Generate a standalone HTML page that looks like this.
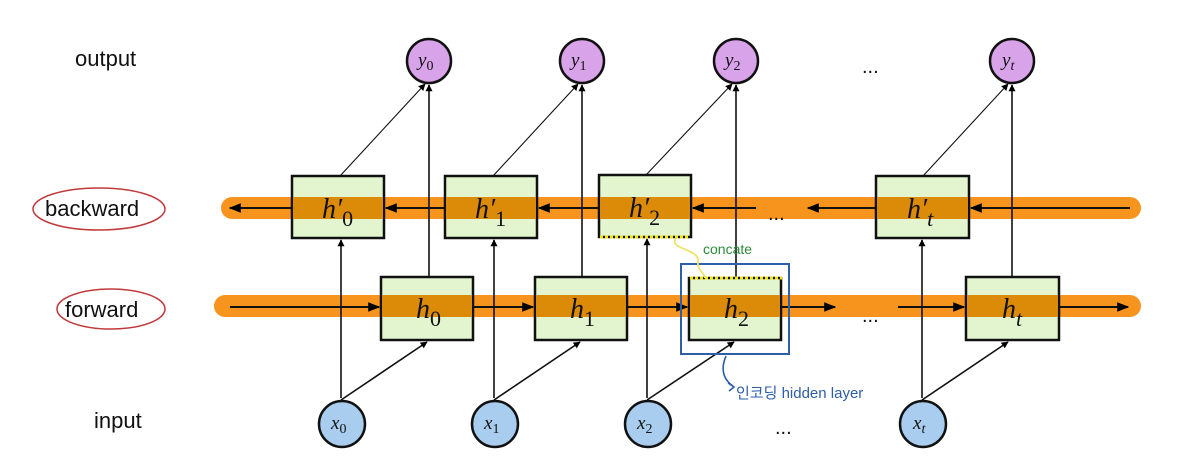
<!DOCTYPE html>
<html><head><meta charset="utf-8"><style>
html,body{margin:0;padding:0;background:#fff;}
svg{display:block;}
.lbl{font-family:"Liberation Sans",sans-serif;font-size:22px;fill:#111;}
.m{font-family:"Liberation Serif",serif;font-style:italic;fill:#111;}
</style></head><body>
<svg width="1200" height="475" viewBox="0 0 1200 475" xmlns="http://www.w3.org/2000/svg">
<defs>
<marker id="a" viewBox="0 0 10 10" refX="9" refY="5" markerWidth="7" markerHeight="7" orient="auto-start-reverse" markerUnits="userSpaceOnUse"><path d="M0,0 L10,5 L0,10 z" fill="#000"/></marker>
<marker id="b" viewBox="0 0 10 10" refX="9" refY="5" markerWidth="12" markerHeight="12" orient="auto" markerUnits="userSpaceOnUse"><path d="M0,1 L10,5 L0,9 z" fill="#000"/></marker>
</defs>
<!-- labels -->
<text class="lbl" x="75" y="66">output</text>
<text class="lbl" x="45" y="216">backward</text>
<text class="lbl" x="65" y="317">forward</text>
<text class="lbl" x="94" y="428">input</text>
<ellipse cx="99" cy="209" rx="66" ry="21" fill="none" stroke="#c0393b" stroke-width="1.5"/>
<ellipse cx="111" cy="309" rx="54" ry="20" fill="none" stroke="#c0393b" stroke-width="1.5"/>
<!-- bands -->
<line x1="232" y1="208" x2="1130" y2="208" stroke="#f7941d" stroke-width="22" stroke-linecap="round"/>
<line x1="225" y1="306" x2="1130" y2="306" stroke="#f7941d" stroke-width="22" stroke-linecap="round"/>
<!-- backward boxes -->
<g stroke="#111" stroke-width="2.5">
<rect x="292" y="176" width="92" height="62" fill="#e2f5cf"/>
<rect x="445" y="176" width="92" height="62" fill="#e2f5cf"/>
<rect x="599" y="175" width="92" height="62" fill="#e2f5cf"/>
<rect x="876" y="176" width="93" height="62" fill="#e2f5cf"/>
<rect x="381" y="277" width="92" height="63" fill="#e2f5cf"/>
<rect x="535" y="277" width="92" height="63" fill="#e2f5cf"/>
<rect x="689" y="278" width="92" height="62" fill="#e2f5cf"/>
<rect x="966" y="277" width="93" height="63" fill="#e2f5cf"/>
</g>
<g fill="#dc8b08">
<rect x="293" y="197" width="90" height="22"/>
<rect x="446" y="197" width="90" height="22"/>
<rect x="600" y="197" width="90" height="22"/>
<rect x="877" y="197" width="91" height="22"/>
<rect x="382" y="295" width="90" height="22"/>
<rect x="536" y="295" width="90" height="22"/>
<rect x="690" y="295" width="90" height="22"/>
<rect x="967" y="295" width="91" height="22"/>
</g>
<!-- box labels -->
<g class="m" font-size="28">
<text x="322" y="218">h′<tspan font-size="22" font-style="normal" dy="8">0</tspan></text>
<text x="475" y="218">h′<tspan font-size="22" font-style="normal" dy="8">1</tspan></text>
<text x="629" y="217">h′<tspan font-size="22" font-style="normal" dy="8">2</tspan></text>
<text x="907" y="218">h′<tspan font-size="22" dy="8">t</tspan></text>
<text x="416" y="318">h<tspan font-size="22" font-style="normal" dy="8">0</tspan></text>
<text x="570" y="318">h<tspan font-size="22" font-style="normal" dy="8">1</tspan></text>
<text x="724" y="318">h<tspan font-size="22" font-style="normal" dy="8">2</tspan></text>
<text x="1002" y="318">h<tspan font-size="22" dy="8">t</tspan></text>
</g>
<!-- band arrows -->
<g stroke="#111" stroke-width="2" fill="none">
<line x1="292" y1="208" x2="230" y2="208" marker-end="url(#b)"/>
<line x1="445" y1="208" x2="386" y2="208" marker-end="url(#b)"/>
<line x1="599" y1="208" x2="539" y2="208" marker-end="url(#b)"/>
<line x1="756" y1="208" x2="693" y2="208" marker-end="url(#b)"/>
<line x1="876" y1="208" x2="808" y2="208" marker-end="url(#b)"/>
<line x1="1130" y1="208" x2="971" y2="208" marker-end="url(#b)"/>
<line x1="230" y1="307" x2="379" y2="307" marker-end="url(#b)"/>
<line x1="473" y1="307" x2="533" y2="307" marker-end="url(#b)"/>
<line x1="627" y1="307" x2="687" y2="307" marker-end="url(#b)"/>
<line x1="781" y1="307" x2="835" y2="307" marker-end="url(#b)"/>
<line x1="898" y1="307" x2="964" y2="307" marker-end="url(#b)"/>
<line x1="1059" y1="307" x2="1128" y2="307" marker-end="url(#b)"/>
</g>
<g font-family="Liberation Sans,sans-serif" font-size="20" fill="#111">
<text x="768" y="220">...</text>
<text x="862" y="322">...</text>
<text x="862" y="73">...</text>
<text x="775" y="434">...</text>
</g>
<!-- vertical / diagonal connectors -->
<g stroke="#111" stroke-width="1.6" fill="none">
<!-- x to h' -->
<line x1="341" y1="398" x2="341" y2="240" marker-end="url(#a)"/>
<line x1="494" y1="398" x2="494" y2="240" marker-end="url(#a)"/>
<line x1="647" y1="398" x2="647" y2="239" marker-end="url(#a)"/>
<line x1="922" y1="398" x2="922" y2="240" marker-end="url(#a)"/>
<!-- x to h -->
<line x1="341" y1="400" x2="427" y2="342" marker-end="url(#a)"/>
<line x1="494" y1="400" x2="580" y2="342" marker-end="url(#a)"/>
<line x1="647" y1="400" x2="734" y2="342" marker-end="url(#a)"/>
<line x1="922" y1="400" x2="1008" y2="342" marker-end="url(#a)"/>
<!-- h to y -->
<line x1="429" y1="277" x2="429" y2="85" marker-end="url(#a)"/>
<line x1="582" y1="277" x2="582" y2="85" marker-end="url(#a)"/>
<line x1="736" y1="278" x2="736" y2="85" marker-end="url(#a)"/>
<line x1="1012" y1="277" x2="1012" y2="85" marker-end="url(#a)"/>
<!-- h' to y -->
<line x1="340" y1="176" x2="425" y2="84" stroke-width="1.1" marker-end="url(#a)"/>
<line x1="493" y1="176" x2="578" y2="84" stroke-width="1.1" marker-end="url(#a)"/>
<line x1="646" y1="175" x2="732" y2="84" stroke-width="1.1" marker-end="url(#a)"/>
<line x1="923" y1="176" x2="1008" y2="84" stroke-width="1.1" marker-end="url(#a)"/>
</g>
<!-- output circles -->
<g stroke="#111" stroke-width="2.5" fill="#d9a3ea">
<circle cx="429" cy="61" r="22"/><circle cx="582" cy="61" r="22"/>
<circle cx="736" cy="61" r="22"/><circle cx="1012" cy="61" r="22"/>
</g>
<g fill="#a9cdee" stroke="#111" stroke-width="2.5">
<circle cx="342" cy="424" r="23"/><circle cx="495" cy="424" r="23"/>
<circle cx="648" cy="424" r="23"/><circle cx="923" cy="424" r="23"/>
</g>
<g class="m" font-size="19">
<text x="418" y="66">y<tspan font-size="14" font-style="normal" dy="4">0</tspan></text>
<text x="571" y="66">y<tspan font-size="14" font-style="normal" dy="4">1</tspan></text>
<text x="725" y="66">y<tspan font-size="14" font-style="normal" dy="4">2</tspan></text>
<text x="1002" y="66">y<tspan font-size="14" dy="4">t</tspan></text>
<text x="331" y="429">x<tspan font-size="14" font-style="normal" dy="4">0</tspan></text>
<text x="484" y="429">x<tspan font-size="14" font-style="normal" dy="4">1</tspan></text>
<text x="637" y="429">x<tspan font-size="14" font-style="normal" dy="4">2</tspan></text>
<text x="913" y="429">x<tspan font-size="14" dy="4">t</tspan></text>
</g>
<!-- annotations -->
<rect x="681" y="264" width="108" height="90" fill="none" stroke="#2e5ea8" stroke-width="2"/>
<line x1="600" y1="237" x2="690" y2="237" stroke="#f2e600" stroke-width="3" stroke-dasharray="3,2"/>
<line x1="690" y1="278" x2="782" y2="278" stroke="#f2e600" stroke-width="3" stroke-dasharray="3,2"/>
<path d="M676,238 C668,250 700,248 698,262 C697,270 704,272 705,278" fill="none" stroke="#ede36a" stroke-width="1.8"/>
<text x="703" y="254" font-family="Liberation Sans,sans-serif" font-size="14" fill="#2e8b3a">concate</text>
<path d="M726,356 C720,370 724,380 733,386" fill="none" stroke="#2e5ea8" stroke-width="1.6"/>
<path d="M728,383 L734,387 L729,391" fill="none" stroke="#2e5ea8" stroke-width="1.6"/>
<text x="736" y="398" font-family="Liberation Sans,'Noto Sans CJK KR',sans-serif" font-size="15" fill="#2e5ea8">인코딩 hidden layer</text>
</svg>
</body></html>
